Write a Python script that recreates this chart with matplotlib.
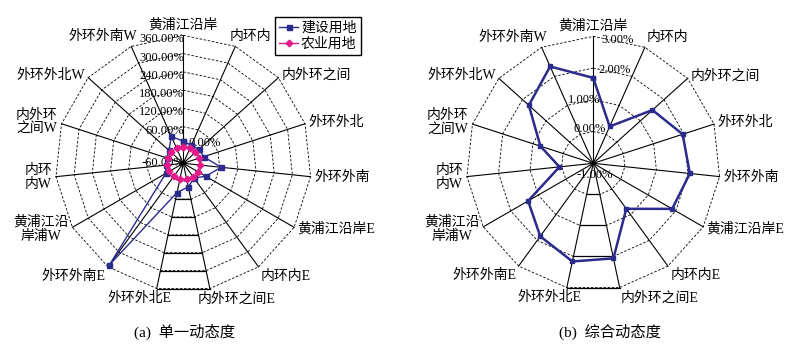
import numpy as np
import matplotlib.pyplot as plt

plt.rcParams['font.family'] = ['Liberation Serif', 'Noto Sans CJK SC']

# spokes, clockwise from the top
categories = ['黄浦江沿岸', '内环内', '内外环之间', '外环外北', '外环外南',
              '黄浦江沿岸E', '内环内E', '内外环之间E', '外环外北E', '外环外南E',
              '黄浦江沿\n岸浦W', '内环\n内W', '内外环\n之间W', '外环外北W', '外环外南W']
series_names = ['建设用地', '农业用地']

# (a) single dynamic degree, %
single_build = [12, 5, 9, 10, 65, 25, 0, 19, 38, 352, 6, -2, -3, 3, 37]
single_farm = [-5, -5, -6, -5, -4, -5, -5, -6, -6, -7, -7, -7, -7, -6, -6]
single_ticks = [-60, 0, 60, 120, 180, 240, 300, 360]

# (b) overall dynamic degree, %
overall = [1.69, 0.27, 1.51, 1.96, 2.06, 1.87, 0.77, 2.06, 2.16, 1.84, 1.37, 0.07, 0.75, 1.73, 2.34]
overall_ticks = [-1, 0, 1, 2, 3]

navy = '#2B2B8E'
pink = '#E5198A'
PT = 0.72  # points per pixel at dpi 100

n = len(categories)
theta = np.arange(n) * 2 * np.pi / n
closed = np.append(theta, theta[0])


def close(v):
    return np.append(v, v[0])


def setup(ax, ticks, solid_rings, nudges, tick_pos):
    ax.set_theta_zero_location('N')
    ax.set_theta_direction(-1)
    ax.set_ylim(ticks[0], ticks[-1])
    ax.set_xticks([])
    ax.set_yticks([])
    ax.grid(False)
    ax.spines['polar'].set_visible(False)
    ax.set_facecolor('none')

    # spokes and dashed polygon rings
    for t in theta:
        ax.plot([t, t], [ticks[0], ticks[-1]], color='k', lw=0.8, clip_on=False)
    for v in ticks[1:]:
        ax.plot(closed, [v] * (n + 1), color='k', lw=0.6, ls=(0, (3, 2)), clip_on=False)
    # the bottom sector has solid ring segments in the original
    for v in solid_rings:
        ax.plot(theta[7:9], [v, v], color='k', lw=0.9, clip_on=False)

    # category labels outside the spokes
    for i, name in enumerate(categories):
        s, c = np.sin(theta[i]), np.cos(theta[i])
        ha = 'left' if s > 0.2 else ('right' if s < -0.2 else 'center')
        va = 'bottom' if c > 0.8 else ('top' if c < -0.8 else 'center')
        dx = 4 * s + nudges.get(i, 0)
        dy = 4 * c
        ax.annotate(name, xy=(theta[i], ticks[-1]), xytext=(dx * PT, dy * PT),
                    textcoords='offset points', ha=ha, va=va, fontsize=10,
                    linespacing=1.1, multialignment='center', annotation_clip=False)

    # value labels along the vertical axis
    for v in ticks:
        ha, dx, dy = tick_pos(v)
        ax.annotate('%.2f%%' % v, xy=(0, v), xytext=(dx * PT, -dy * PT),
                    textcoords='offset points', ha=ha, va='center', fontsize=9,
                    annotation_clip=False, zorder=4)


def single_tick_pos(v):
    if v == 0:
        return 'left', 5, -2
    if v == -60:
        return 'right', 1, 0
    return 'right', 1, 4


def overall_tick_pos(v):
    dx = {-1: 2, 0: -4, 1: -9, 2: 21, 3: 24}
    dy = {-1: 12, 0: -3, 1: 0, 2: 2, 3: 4}
    return 'center', dx[v], dy[v]


fig = plt.figure(figsize=(7.92, 3.52), dpi=100)
ax1 = fig.add_axes([0.0698, 0.1724, 0.3232, 0.7273], projection='polar')
ax2 = fig.add_axes([0.5887, 0.1752, 0.3207, 0.7216], projection='polar')

setup(ax1, single_ticks, single_ticks[2:], {1: -7, 7: -13, 8: 16, 14: 7}, single_tick_pos)
setup(ax2, overall_ticks, overall_ticks[1:], {8: 15, 14: 7}, overall_tick_pos)

l1, = ax1.plot(closed, close(single_build), color=navy, lw=1.0, marker='s', ms=3.6,
               clip_on=False, zorder=5)
l2, = ax1.plot(closed, close(single_farm), color=pink, lw=1.0, marker='D', ms=3.4,
               clip_on=False, zorder=6)
ax2.plot(closed, close(overall), color=navy, lw=1.8, marker='s', ms=2.5, clip_on=False, zorder=5)

leg = fig.legend([l1, l2], series_names, loc='upper right', bbox_to_anchor=(0.4554, 0.951),
                 fancybox=False, edgecolor='k', framealpha=1, fontsize=10,
                 handlelength=1.4, handletextpad=0.2, labelspacing=0.2,
                 borderpad=0.3, borderaxespad=0)
leg.get_frame().set_linewidth(1.0)

fig.text(0.233, 0.0568, '(a)  单一动态度', ha='center', va='center', fontsize=11)
fig.text(0.770, 0.0568, '(b)  综合动态度', ha='center', va='center', fontsize=11)

fig.savefig('out.png', dpi=100)
